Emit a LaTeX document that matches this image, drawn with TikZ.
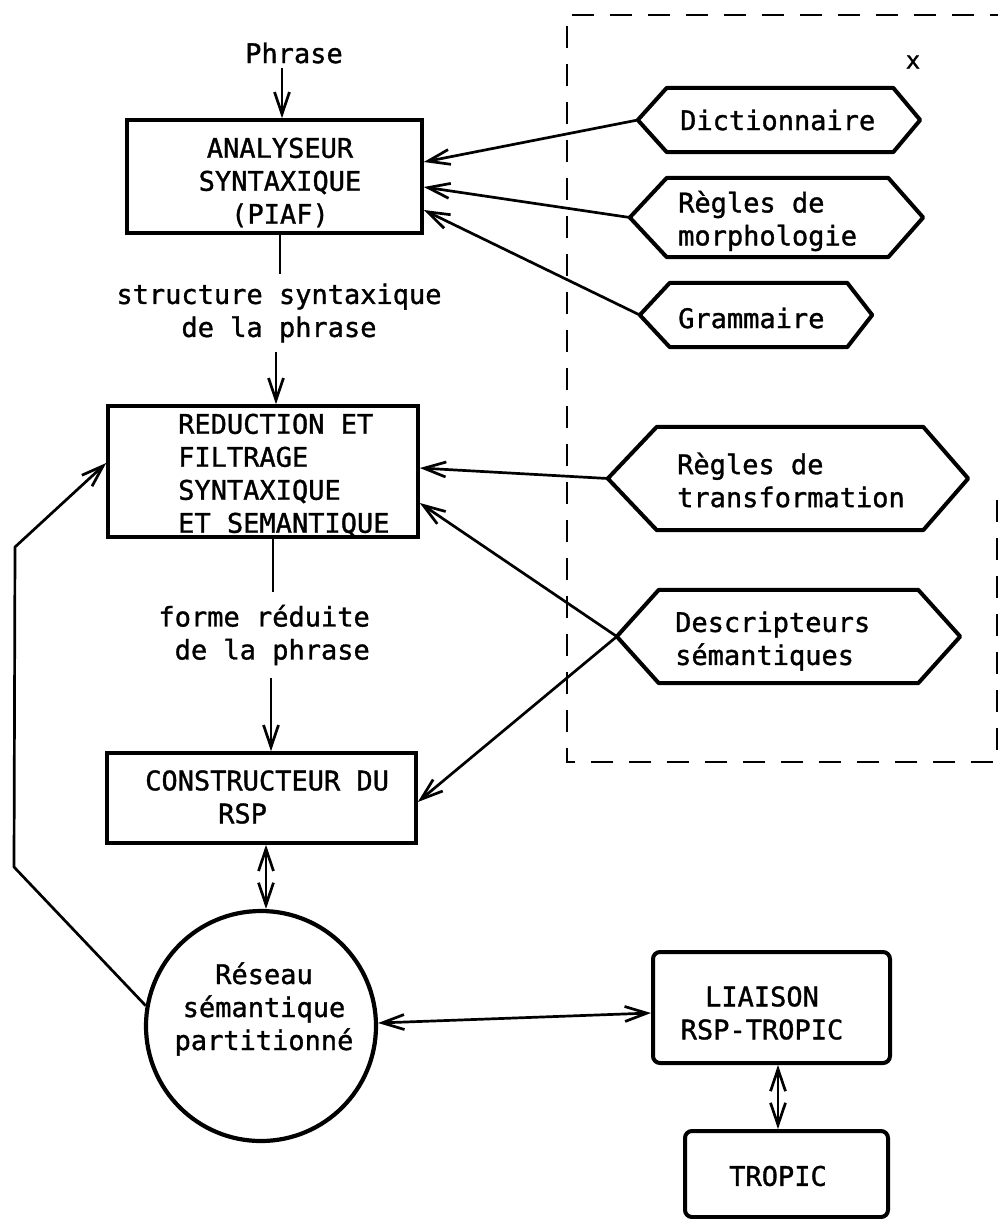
\documentclass[tikz,border=0pt]{standalone}
\usepackage{fontspec}
\setmonofont[FakeBold=1.2]{DejaVu Sans Mono}
\usetikzlibrary{arrows.meta}
\tikzset{
 txt/.style={font=\ttfamily\fontsize{27}{33}\selectfont, inner sep=0pt},
 boxn/.style={draw, line width=3.6pt, inner sep=0pt},
 rboxn/.style={boxn, line width=4pt, rounded corners=7pt},
 hexbody/.style={inner sep=0pt},
 hexline/.style={line width=4pt, line join=round},
 conn/.style={line width=2.7pt},
 arr/.style={conn, -{Straight Barb[length=22pt,width=15pt]}},
 darr/.style={conn, {Straight Barb[length=22pt,width=15pt]}-{Straight Barb[length=22pt,width=15pt]}},
 dashbox/.style={line width=2.8pt, dash pattern=on 22pt off 16pt},
}
\newcommand{\hexa}[7]{%
 \node[hexbody, minimum width=#4, minimum height=#5] (#1) at (#2,#3) {};
 \draw[hexline] (#1.north west) -- (#1.north east) -- ([xshift=#7]#1.east) -- (#1.south east) -- (#1.south west) -- ([xshift=-#6]#1.west) -- cycle;
 \coordinate (#1L) at ([xshift=-#6]#1.west);}
\begin{document}
\begin{tikzpicture}[x=1pt,y=-1pt]
\useasboundingbox (0,0) rectangle (998,1219);
% columns
\coordinate (colA) at (282,0);
\coordinate (colA2) at (280,0);
\coordinate (colA3) at (276,0);
\coordinate (colB) at (273,0);
\coordinate (colB2) at (271,0);
\coordinate (colC) at (266,0);
\coordinate (colD) at (778,0);
% dashed frame
\draw[dashbox] (997,500) -- (997,762) -- (567,762) -- (567,15) -- (998,15);
\node[font=\ttfamily\fontsize{24}{24}\selectfont, inner sep=0pt] (xmark) at (913,62) {x};
% main boxes
\node[boxn, minimum width=295pt, minimum height=113pt] (ana) at (274.5,176.5) {};
\node[txt, align=center] (anaT) at (280,182.5) {ANALYSEUR\\SYNTAXIQUE\\(PIAF)};
\node[boxn, minimum width=310pt, minimum height=131pt] (red) at (263,471.5) {};
\node[txt, align=left, anchor=west] (redT) at (178,475) {REDUCTION ET\\FILTRAGE\\SYNTAXIQUE\\ET SEMANTIQUE};
\node[boxn, minimum width=309pt, minimum height=90pt] (con) at (261.5,798) {};
\node[txt, align=left, anchor=west] (conT) at (145,797) {CONSTRUCTEUR DU\\\hspace*{73pt}RSP};
\node[circle, draw, line width=4.2pt, minimum size=230pt, inner sep=0pt] (rsp) at (261,1026) {};
\node[txt, align=center] (rspT) at (264,1009) {Réseau\\sémantique\\partitionné};
\node[rboxn, minimum width=237pt, minimum height=111pt] (lia) at (771.5,1007.5) {};
\node[txt, align=center] (liaT) at (762,1013) {LIAISON\\RSP-TROPIC};
\node[rboxn, minimum width=203pt, minimum height=86pt] (tro) at (786.5,1174) {};
\node[txt] (troT) at (778,1176) {TROPIC};
% labels
\node[txt, inner ysep=4pt] (phrase) at (294,53) {Phrase};
\node[txt, align=center, inner ysep=9pt] (lab1) at (279,313) {structure syntaxique\\de la phrase};
\node[txt, align=right, anchor=east, inner ysep=13pt] (lab2) at (370,635) {forme réduite\\de la phrase};
% hexagons
\hexa{dic}{780}{120}{226pt}{64pt}{29pt}{27pt}
\node[txt, anchor=west] (dicT) at (680,120) {Dictionnaire};
\hexa{mor}{777.5}{217.5}{221pt}{79pt}{37pt}{35pt}
\node[txt, align=left, anchor=west] (morT) at (678,221) {Règles de\\morphologie};
\hexa{gra}{758.5}{315}{177pt}{64pt}{30pt}{25pt}
\node[txt, anchor=west] (graT) at (678,318) {Grammaire};
\hexa{trf}{790}{478.5}{266pt}{103pt}{49pt}{45pt}
\node[txt, align=left, anchor=west] (trfT) at (677,480) {Règles de\\transformation};
\hexa{des}{788.5}{636.5}{259pt}{93pt}{42pt}{42pt}
\node[txt, align=left, anchor=west] (desT) at (675,641) {Descripteurs\\sémantiques};
% vertical flow
\draw[arr] (phrase.south -| colA) -- (ana.north -| colA);
\draw[conn] (ana.south -| colA2) -- (lab1.north -| colA2);
\draw[arr] (lab1.south -| colA3) -- (red.north -| colA3);
\draw[conn] (red.south -| colB) -- (lab2.north -| colB);
\draw[arr] (lab2.south -| colB2) -- (con.north -| colB2);
\draw[darr] (con.south -| colC) -- (rsp.north -| colC);
\draw[darr] ([yshift=3pt]rsp.east) -- ([yshift=-5.5pt]lia.west);
\draw[darr] (lia.south -| colD) -- (tro.north -| colD);
% hexagon inputs
\draw[arr] (dicL) -- ([yshift=14.5pt]ana.east);
\draw[arr] (morL) -- ([yshift=-10.5pt]ana.east);
\draw[arr] (graL) -- ([yshift=-33.5pt]ana.east);
\draw[arr] (trfL) -- ([yshift=3.5pt]red.east);
\draw[arr] (desL) -- ([yshift=-31.5pt]red.east);
\draw[arr] (desL) -- ([yshift=-4pt]con.east);
% feedback loop
\coordinate (fb1) at (14,867);
\coordinate (fb2) at (15,547);
\draw[arr, line join=round] (rsp.170) -- (fb1) -- (fb2) -- ([yshift=8.5pt]red.west);
\end{tikzpicture}
\end{document}
